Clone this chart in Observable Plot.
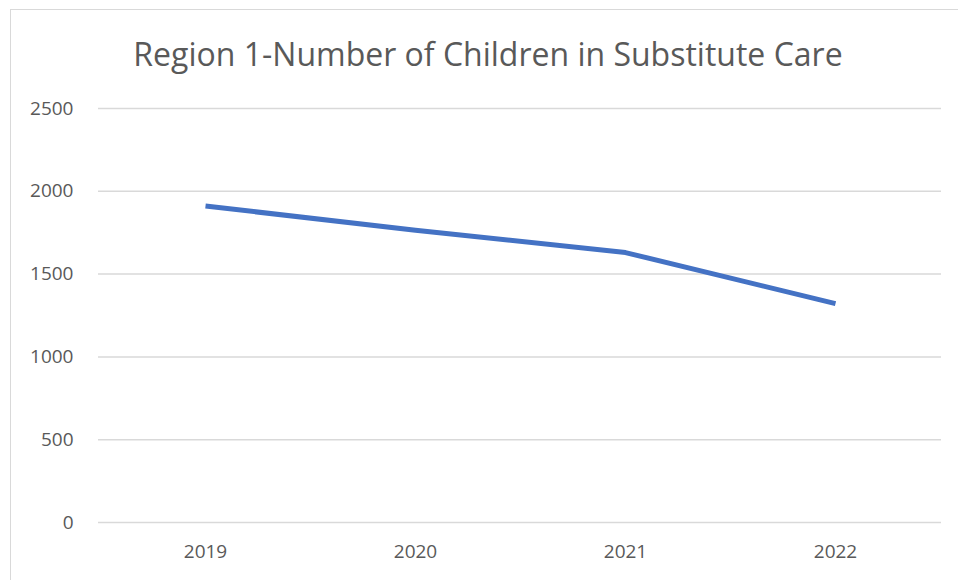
<!DOCTYPE html>
<html>
<head>
<meta charset="utf-8">
<script src="https://cdn.jsdelivr.net/npm/d3@7"></script>
<script src="https://cdn.jsdelivr.net/npm/@observablehq/plot@0.6"></script>
<style>
  html, body { margin: 0; padding: 0; background: #fff; }
  #wrap { position: relative; width: 958px; height: 580px; overflow: hidden; }
  #frame { position: absolute; left: 10px; top: 9px; width: 1000px; height: 620px;
           border-left: 1.5px solid #d9d9d9; border-top: 1.5px solid #d9d9d9; box-sizing: border-box; }
  #title { position: absolute; left: 0; top: 0; width: 976px; height: 90px; text-align: center;
           font-family: "Open Sans", sans-serif; font-size: 32px; color: #595959;
           line-height: 1; padding-top: 38px; box-sizing: border-box; }
  #chart { position: absolute; left: 0; top: 90px; }
</style>
</head>
<body>
<div id="wrap">
  <div id="frame"></div>
  <div id="title">Region 1-Number of Children in Substitute Care</div>
  <div id="chart"></div>
</div>
<script>
const years = ["2019", "2020", "2021", "2022"];
const children = [1911, 1765, 1630, 1322];
const yTicks = [0, 500, 1000, 1500, 2000, 2500];

const data = years.map((y, i) => ({year: y, value: children[i]}));

const plot = Plot.plot({
  width: 958,
  height: 490,
  marginLeft: 98,
  marginRight: 17,
  marginTop: 18,
  marginBottom: 58,
  style: {fontFamily: "Open Sans, sans-serif", fontSize: "19px", color: "#595959", background: "transparent"},
  x: {type: "point", domain: years, padding: 0.5, label: null},
  y: {domain: [0, 2500], label: null},
  marks: [
    Plot.ruleY(yTicks, {stroke: "#d9d9d9", strokeWidth: 1.5}),
    Plot.axisY({ticks: yTicks, tickFormat: d => String(d), tickSize: 0, tickPadding: 25, label: null, fill: "#595959"}),
    Plot.axisX({tickSize: 0, tickPadding: 22, label: null, fill: "#595959"}),
    Plot.line(data, {x: "year", y: "value", stroke: "#4472c4", strokeWidth: 5, strokeLinejoin: "round", strokeLinecap: "butt"})
  ]
});
document.getElementById("chart").appendChild(plot);
</script>
</body>
</html>
